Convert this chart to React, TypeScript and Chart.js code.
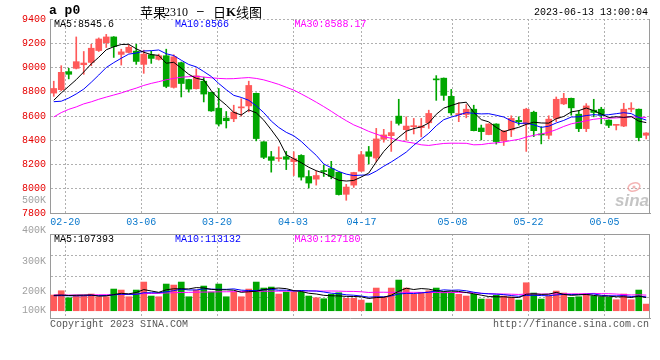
import React, { useEffect, useRef } from 'react';
import { Chart, registerables } from 'chart.js';

Chart.register(...registerables);

const DATES = [
  '02-16', '02-17', '02-20', '02-21', '02-22', '02-23', '02-24', '02-27', '02-28', '03-01',
  '03-02', '03-03', '03-06', '03-07', '03-08', '03-09', '03-10', '03-13', '03-14', '03-15',
  '03-16', '03-17', '03-20', '03-21', '03-22', '03-23', '03-24', '03-27', '03-28', '03-29',
  '03-30', '03-31', '04-03', '04-04', '04-06', '04-07', '04-10', '04-11', '04-12', '04-13',
  '04-14', '04-17', '04-18', '04-19', '04-20', '04-21', '04-24', '04-25', '04-26', '04-27',
  '04-28', '05-04', '05-05', '05-08', '05-09', '05-10', '05-11', '05-12', '05-15', '05-16',
  '05-17', '05-18', '05-19', '05-22', '05-23', '05-24', '05-25', '05-26', '05-29', '05-30',
  '05-31', '06-01', '06-02', '06-05', '06-06', '06-07', '06-08', '06-09', '06-12', '06-13',
];
const TICK_DATES = ['02-20', '03-06', '03-20', '04-03', '04-17', '05-08', '05-22', '06-05'];

const OPEN = [
  8789, 8817, 8966, 8993, 9023, 9042, 9140, 9205, 9252, 9108,
  9124, 9135, 9026, 9105, 9067, 9097, 8836, 9040, 8901, 8825,
  8887, 8795, 8664, 8583, 8577, 8667, 8683, 8787, 8387, 8264,
  8248, 8264, 8224, 8275, 8101, 8079, 8150, 8166, 8136, 7954,
  8030, 8145, 8305, 8253, 8408, 8438, 8599, 8487, 8512, 8504,
  8544, 8906, 8912, 8762, 8612, 8612, 8656, 8501, 8447, 8534,
  8395, 8485, 8564, 8534, 8631, 8452, 8441, 8580, 8700, 8746,
  8615, 8496, 8648, 8656, 8566, 8523, 8517, 8656, 8656, 8441,
];
const HIGH = [
  8887, 9015, 8993, 9252, 9132, 9192, 9244, 9273, 9255, 9151,
  9189, 9192, 9143, 9135, 9110, 9151, 9105, 9045, 8903, 8988,
  8920, 8797, 8827, 8637, 8689, 8743, 8887, 8790, 8389, 8308,
  8346, 8308, 8305, 8281, 8150, 8147, 8194, 8226, 8138, 8036,
  8136, 8308, 8349, 8498, 8490, 8558, 8738, 8593, 8580, 8580,
  8648, 8933, 8914, 8819, 8710, 8694, 8689, 8525, 8536, 8536,
  8479, 8602, 8593, 8664, 8640, 8512, 8602, 8757, 8787, 8748,
  8645, 8702, 8738, 8672, 8568, 8530, 8705, 8710, 8658, 8462,
];
const LOW = [
  8762, 8809, 8906, 8988, 8944, 9015, 9132, 9165, 9083, 9020,
  9120, 9026, 8952, 9034, 9061, 8833, 8830, 8757, 8797, 8822,
  8716, 8638, 8517, 8501, 8553, 8599, 8634, 8395, 8248, 8137,
  8226, 8158, 8109, 8071, 8006, 8030, 8101, 8082, 7948, 7905,
  8011, 8143, 8204, 8221, 8384, 8308, 8525, 8400, 8452, 8428,
  8498, 8729, 8729, 8607, 8553, 8585, 8477, 8403, 8445, 8368,
  8357, 8430, 8525, 8308, 8430, 8370, 8411, 8553, 8694, 8607,
  8471, 8471, 8593, 8536, 8504, 8485, 8512, 8634, 8395, 8411,
];
const CLOSE = [
  8827, 8960, 8944, 9048, 9037, 9159, 9235, 9252, 9173, 9129,
  9167, 9050, 9110, 9075, 9097, 8844, 9088, 8868, 8822, 8931,
  8781, 8642, 8534, 8561, 8632, 8672, 8852, 8414, 8259, 8234,
  8253, 8243, 8248, 8096, 8047, 8109, 8142, 8101, 7952, 8014,
  8134, 8281, 8267, 8411, 8444, 8463, 8539, 8517, 8517, 8517,
  8621, 8898, 8770, 8626, 8618, 8656, 8479, 8471, 8534, 8389,
  8477, 8580, 8553, 8656, 8479, 8444, 8574, 8738, 8746, 8667,
  8496, 8683, 8629, 8607, 8523, 8528, 8656, 8661, 8422, 8460,
];
const MA5 = [
  8730, 8790, 8845, 8900, 8963.2, 9029.6, 9084.6, 9146.2, 9171.2, 9189.6,
  9191.2, 9154.2, 9125.8, 9106.2, 9099.8, 9035.2, 9042.8, 8994.4, 8943.8, 8910.6,
  8898, 8808.8, 8742, 8689.8, 8630, 8608.2, 8650.2, 8626.2, 8565.8, 8486.2,
  8402.4, 8280.6, 8247.4, 8214.8, 8177.4, 8148.6, 8128.4, 8099, 8070.2, 8063.6,
  8068.6, 8096.4, 8129.6, 8221.4, 8307.4, 8373.2, 8424.8, 8474.8, 8496, 8510.6,
  8542.2, 8614, 8664.6, 8686.4, 8706.6, 8713.6, 8629.8, 8570, 8551.6, 8505.8,
  8470, 8490.2, 8506.6, 8531, 8549, 8542.4, 8541.2, 8578.2, 8596.2, 8633.8,
  8644.2, 8666, 8644.2, 8616.4, 8587.6, 8594, 8588.6, 8595, 8558, 8545.6,
];
const MA10 = [
  8718, 8722, 8748, 8782, 8822, 8878, 8938, 9000, 9040, 9076.4,
  9110.4, 9119.4, 9136, 9138.7, 9144.7, 9113.2, 9098.5, 9060.1, 9025, 9005.2,
  8966.6, 8925.8, 8868.2, 8816.8, 8770.3, 8753.1, 8729.5, 8684.1, 8627.8, 8558.1,
  8505.3, 8465.4, 8436.8, 8390.3, 8331.8, 8275.5, 8204.5, 8173.2, 8142.5, 8120.5,
  8108.6, 8112.4, 8114.3, 8145.8, 8185.5, 8220.9, 8260.6, 8302.2, 8358.7, 8409,
  8457.7, 8519.4, 8569.7, 8591.2, 8608.6, 8627.9, 8621.9, 8617.3, 8619, 8606.2,
  8591.8, 8560, 8538.3, 8541.3, 8527.4, 8506.2, 8515.7, 8542.4, 8563.6, 8591.4,
  8593.3, 8603.6, 8611.2, 8606.3, 8610.7, 8619.1, 8627.3, 8619.6, 8587.2, 8566,
];
const MA30 = [
  8592, 8628, 8655, 8675, 8700, 8717, 8738, 8756, 8773, 8790,
  8811, 8830, 8852, 8869, 8883, 8899, 8910, 8920, 8924, 8928,
  8921, 8915, 8910, 8907, 8908, 8913, 8917, 8910, 8898, 8879.9,
  8860.8, 8836.9, 8813.7, 8781.9, 8748.9, 8713.9, 8677.5, 8639.1, 8598.4, 8561.3,
  8526.8, 8501.2, 8473.1, 8451, 8429.2, 8416.5, 8398.2, 8386.5, 8376.3, 8362.5,
  8357.2, 8365.7, 8373.6, 8375.8, 8375.3, 8374.8, 8362.3, 8364.2, 8373.4, 8378.6,
  8386, 8397.3, 8407.4, 8426.1, 8440.5, 8451.7, 8466.1, 8487.3, 8513.8, 8535.5,
  8547.6, 8561, 8573.1, 8579.6, 8582.2, 8584.4, 8588.3, 8593.1, 8589.9, 8588.17,
];

const VOLUME = [
  127600, 162600, 105700, 119500, 119500, 135800, 113800, 113800, 176400, 168300,
  113800, 168300, 233300, 119500, 113800, 217100, 208900, 233300, 113800, 168300,
  200800, 152000, 217100, 113800, 152000, 113800, 176400, 233300, 184600, 192700,
  135800, 152000, 152000, 152000, 119500, 105700, 97600, 133300, 146300, 100800,
  100800, 87000, 62600, 184600, 111400, 184600, 249600, 184600, 133300, 149600,
  162600, 184600, 152000, 152000, 133300, 119500, 133300, 95100, 95100, 125200,
  119500, 111400, 87000, 227600, 143900, 95100, 119500, 160200, 143900, 108900,
  113800, 135800, 119500, 113800, 108900, 89400, 135800, 89400, 168300, 54100,
];
const VOL_MA5 = [
  125000, 128000, 124000, 126000, 127000, 128600, 118900, 120500, 131900, 141600,
  137200, 148100, 172000, 160600, 149700, 170400, 178500, 178500, 177400, 188300,
  185000, 173600, 170400, 170400, 167100, 149700, 154600, 157900, 172000, 180200,
  184600, 179700, 163400, 156900, 142300, 136200, 125400, 121600, 120500, 116700,
  115800, 113600, 99500, 107200, 109300, 126000, 158600, 183000, 172700, 180300,
  175900, 162900, 156400, 160200, 156900, 148300, 138000, 126600, 115300, 113600,
  113600, 109300, 107600, 134100, 137900, 133000, 134600, 149300, 132500, 125500,
  129300, 132500, 124400, 118400, 118400, 113500, 113500, 107500, 118400, 107393,
];
const VOL_MA10 = [
  122000, 123000, 122000, 121000, 122000, 124000, 123000, 124000, 129000, 134300,
  132900, 133500, 146300, 146300, 145700, 153800, 163300, 175300, 169000, 169000,
  177700, 176100, 174500, 173900, 177700, 167400, 164100, 164100, 171200, 173700,
  167200, 167200, 160600, 164500, 161200, 160400, 152500, 142500, 138700, 129500,
  126000, 119500, 110600, 113800, 113000, 120900, 136100, 141200, 139900, 144800,
  151000, 160800, 169700, 166400, 168600, 162100, 150500, 141500, 137700, 135300,
  131000, 123600, 117100, 124700, 125800, 123300, 121900, 128500, 133300, 131700,
  131100, 133600, 136800, 125400, 121900, 121400, 123000, 115900, 118400, 113132,
];
const VOL_MA30 = [
  128000, 128000, 127500, 127800, 128300, 128900, 129700, 130200, 131000, 133100,
  134400, 135800, 139200, 140500, 141700, 144800, 146300, 148500, 149600, 150800,
  151700, 152600, 153900, 154300, 155400, 156100, 156800, 157900, 158500, 159000,
  159300, 158900, 160500, 161500, 161500, 160500, 160000, 160600, 159600, 157400,
  157000, 154200, 148600, 150700, 150600, 149600, 150900, 149300, 149900, 149300,
  148000, 149100, 147000, 148200, 147600, 147800, 146400, 141800, 138800, 136500,
  136000, 134600, 132500, 135000, 135800, 135400, 136200, 137100, 137000, 137300,
  137700, 139300, 141200, 138900, 138800, 135600, 131800, 128600, 129800, 127180,
];

const PRICE_MIN = 7800;
const PRICE_MAX = 9400;
const PRICE_STEP = 200;
const VOL_MIN = -59000;
const VOL_MAX = 624000;
const VOL_AXIS_LABELS = ['500K', '400K', '300K', '200K', '100K'];
const PRICE_LEGEND = ['MA5:8545.6', 'MA10:8566', 'MA30:8588.17'];
const VOL_LEGEND = ['MA5:107393', 'MA10:113132', 'MA30:127180'];

const UP_COLOR = '#ff5a5a';
const DOWN_COLOR = '#00a600';
const MA_COLORS = ['#000000', '#0000ff', '#ff00ff'];
const GRID_COLOR = '#b0b0b0';
const FRAME_COLOR = '#9a9a9a';
const PRICE_LABEL_COLOR = '#e60000';
const DATE_LABEL_COLOR = '#0a78cc';
const VOL_LABEL_COLOR = '#a0a0a0';
const FOOTER_COLOR = '#555555';
const MONO = '"Liberation Mono", "DejaVu Sans Mono", monospace';

export default function App() {
  const priceRef = useRef<HTMLCanvasElement | null>(null);
  const volRef = useRef<HTMLCanvasElement | null>(null);

  useEffect(() => {
    if (!priceRef.current || !volRef.current) return;
    const n = DATES.length;
    const xs = DATES.map((_, i) => i);
    const colors = xs.map((i) => (CLOSE[i] >= OPEN[i] ? UP_COLOR : DOWN_COLOR));
    const volColors = colors;
    const tickIdx = TICK_DATES.map((d) => DATES.indexOf(d));
    const buildGridTicks = (scale: any) => {
      scale.ticks = tickIdx.map((i) => ({ value: (i * n) / (n - 1) - 0.5 }));
    };

    const framePlugin = (drawTop: boolean) => ({
      id: 'frame' + (drawTop ? 'T' : 'N'),
      afterDraw(chart: any) {
        const { ctx, chartArea } = chart;
        const { left, right, top, bottom } = chartArea;
        ctx.save();
        ctx.strokeStyle = FRAME_COLOR;
        ctx.lineWidth = 1;
        ctx.setLineDash([]);
        ctx.beginPath();
        const rx = Math.round(right) - 0.5;
        ctx.moveTo(rx, top);
        ctx.lineTo(rx, bottom + 0.5);
        if (drawTop) {
          const ty = Math.round(top) + 0.5;
          ctx.moveTo(left, ty);
          ctx.lineTo(right, ty);
        }
        ctx.stroke();
        ctx.restore();
      },
    });

    const lineDs = (label: string, values: number[], color: string) => ({
      type: 'line' as const,
      label,
      data: xs.map((i) => ({ x: i, y: values[i] })),
      borderColor: color,
      borderWidth: 1,
      pointRadius: 0,
      tension: 0,
      order: 0,
    });

    const xCommon = (showLabels: boolean, height: number) => ({
      type: 'linear' as const,
      min: -0.5,
      max: n - 0.5,
      bounds: 'data' as const,
      offset: false,
      afterBuildTicks: buildGridTicks,
      afterFit: (s: any) => {
        s.height = height;
      },
      grid: { color: GRID_COLOR, lineWidth: 1, drawTicks: false, offset: false },
      border: { display: true, color: FRAME_COLOR, width: 1, dash: [2, 2] },
      ticks: {
        display: showLabels,
        autoSkip: false,
        maxRotation: 0,
        padding: 3,
        color: DATE_LABEL_COLOR,
        font: { family: MONO, size: 10 },
        callback: (_v: any, i: number) => TICK_DATES[i],
      },
    });

    const priceText = {
      id: 'priceText',
      beforeDatasetsDraw(chart: any) {
        const { ctx, chartArea } = chart;
        ctx.save();
        ctx.strokeStyle = 'rgba(240,150,150,0.7)';
        ctx.lineWidth = 1.5;
        ctx.beginPath();
        ctx.ellipse(chartArea.right - 16, chartArea.bottom - 26, 6, 4, -0.3, 0, Math.PI * 2);
        ctx.stroke();
        ctx.fillStyle = 'rgba(240,150,150,0.7)';
        ctx.beginPath();
        ctx.arc(chartArea.right - 16, chartArea.bottom - 26, 1.6, 0, Math.PI * 2);
        ctx.fill();
        ctx.fillStyle = 'rgba(150,150,150,0.55)';
        ctx.font = 'italic bold 17px "Liberation Sans", sans-serif';
        ctx.textBaseline = 'alphabetic';
        ctx.textAlign = 'right';
        ctx.fillText('sina', chartArea.right - 1, chartArea.bottom - 7);
        ctx.restore();
      },
      afterDraw(chart: any) {
        const { ctx, chartArea } = chart;
        const { left, top } = chartArea;
        ctx.save();
        ctx.textBaseline = 'middle';
        ctx.textAlign = 'left';
        ctx.fillStyle = '#000';
        ctx.font = 'bold 13px "Liberation Mono", monospace';
        ctx.fillText('a p0', 49, 11);
        ctx.font = '13px "Noto Sans CJK SC", sans-serif';
        ctx.fillText('苹果', 140, 12);
        ctx.font = '12px "Liberation Serif", serif';
        ctx.fillText('2310', 164, 13);
        ctx.font = '12px "Liberation Sans", sans-serif';
        ctx.fillText('–', 197, 12);
        ctx.font = '13px "Noto Sans CJK SC", sans-serif';
        ctx.fillText('日', 213, 12);
        ctx.font = 'bold 13px "Liberation Serif", serif';
        ctx.fillText('K', 226, 13);
        ctx.font = '13px "Noto Sans CJK SC", sans-serif';
        ctx.fillText('线图', 236, 12);
        ctx.font = `10px ${MONO}`;
        ctx.textAlign = 'right';
        ctx.fillText('2023-06-13 13:00:04', 648, 12);
        ctx.textAlign = 'left';
        const offs = [4, 125, 244.5];
        PRICE_LEGEND.forEach((t, k) => {
          ctx.fillStyle = MA_COLORS[k];
          ctx.fillText(t, left + offs[k], top + 5);
        });
        ctx.restore();
      },
    };

    const volText = {
      id: 'volText',
      afterDraw(chart: any) {
        const { ctx, chartArea } = chart;
        const { left, right, top, bottom } = chartArea;
        ctx.save();
        ctx.textBaseline = 'middle';
        ctx.font = `10px ${MONO}`;
        ctx.fillStyle = VOL_LABEL_COLOR;
        ctx.textAlign = 'right';
        VOL_AXIS_LABELS.forEach((t, k) => {
          const y = Math.min(top - 33.6 + k * 30.3, bottom - 8);
          ctx.fillText(t, left - 4, y);
        });
        ctx.textAlign = 'left';
        const offs = [4, 125, 244.5];
        VOL_LEGEND.forEach((t, k) => {
          ctx.fillStyle = MA_COLORS[k];
          ctx.fillText(t, left + offs[k], top + 5);
        });
        ctx.fillStyle = FOOTER_COLOR;
        ctx.fillText('Copyright 2023 SINA.COM', left, bottom + 6);
        ctx.textAlign = 'right';
        ctx.fillText('http://finance.sina.com.cn', right - 1, bottom + 6);
        ctx.restore();
      },
    };

    const priceChart = new Chart(priceRef.current, {
      type: 'bar',
      data: {
        datasets: [
          lineDs('MA5', MA5, MA_COLORS[0]),
          lineDs('MA10', MA10, MA_COLORS[1]),
          lineDs('MA30', MA30, MA_COLORS[2]),
          {
            type: 'bar',
            label: 'body',
            data: xs.map((i) => ({ x: i, y: [Math.min(OPEN[i], CLOSE[i]), Math.max(OPEN[i], CLOSE[i])] })),
            backgroundColor: colors,
            barThickness: 6,
            grouped: false,
            minBarLength: 1,
            borderWidth: 0,
            order: 1,
          } as any,
          {
            type: 'bar',
            label: 'wick',
            data: xs.map((i) => ({ x: i, y: [LOW[i], HIGH[i]] })),
            backgroundColor: colors,
            barThickness: 1,
            grouped: false,
            borderWidth: 0,
            order: 2,
          } as any,
        ],
      },
      options: {
        responsive: false,
        animation: false,
        devicePixelRatio: 1,
        layout: { padding: { left: 0, right: 10, top: 19, bottom: 0 } },
        plugins: { legend: { display: false }, tooltip: { enabled: false } },
        scales: {
          x: xCommon(true, 19) as any,
          y: {
            type: 'linear',
            min: PRICE_MIN,
            max: PRICE_MAX,
            beginAtZero: false,
            afterFit: (s: any) => {
              s.width = 50;
            },
            grid: { color: GRID_COLOR, lineWidth: 1, drawTicks: false },
            border: { display: true, color: FRAME_COLOR, width: 1, dash: [2, 2] },
            ticks: {
              stepSize: PRICE_STEP,
              padding: 4,
              color: PRICE_LABEL_COLOR,
              font: { family: MONO, size: 10 },
              callback: (v: any) => String(v),
            },
          },
        },
      },
      plugins: [framePlugin(false), priceText],
    });

    const volChart = new Chart(volRef.current, {
      type: 'bar',
      data: {
        datasets: [
          lineDs('VMA5', VOL_MA5, MA_COLORS[0]),
          lineDs('VMA10', VOL_MA10, MA_COLORS[1]),
          lineDs('VMA30', VOL_MA30, MA_COLORS[2]),
          {
            type: 'bar',
            label: 'volume',
            data: xs.map((i) => ({ x: i, y: VOLUME[i] })),
            backgroundColor: volColors,
            barThickness: 6,
            grouped: false,
            borderWidth: 0,
            order: 1,
          } as any,
        ],
      },
      options: {
        responsive: false,
        animation: false,
        devicePixelRatio: 1,
        layout: { padding: { left: 0, right: 10, top: 39, bottom: 42 } },
        plugins: { legend: { display: false }, tooltip: { enabled: false } },
        scales: {
          x: xCommon(false, 0) as any,
          y: {
            type: 'linear',
            min: VOL_MIN,
            max: VOL_MAX,
            beginAtZero: false,
            afterBuildTicks: (scale: any) => {
              scale.ticks = [0, 1, 2, 3, 4].map((k) => ({ value: VOL_MIN + (k * (VOL_MAX - VOL_MIN)) / 4 }));
            },
            afterFit: (s: any) => {
              s.width = 50;
            },
            grid: { color: GRID_COLOR, lineWidth: 1, drawTicks: false },
            border: { display: true, color: FRAME_COLOR, width: 1, dash: [2, 2] },
            ticks: { display: false },
          },
        },
      },
      plugins: [framePlugin(true), volText],
    });

    return () => {
      priceChart.destroy();
      volChart.destroy();
    };
  }, []);

  return (
    <div style={{ position: 'fixed', left: 0, top: 0, width: 660, height: 360, background: '#fff', overflow: 'hidden' }}>
      <canvas ref={priceRef} width={660} height={232} style={{ position: 'absolute', left: 0, top: 0, width: 660, height: 232 }} />
      <canvas ref={volRef} width={660} height={165} style={{ position: 'absolute', left: 0, top: 195, width: 660, height: 165 }} />
    </div>
  );
}
